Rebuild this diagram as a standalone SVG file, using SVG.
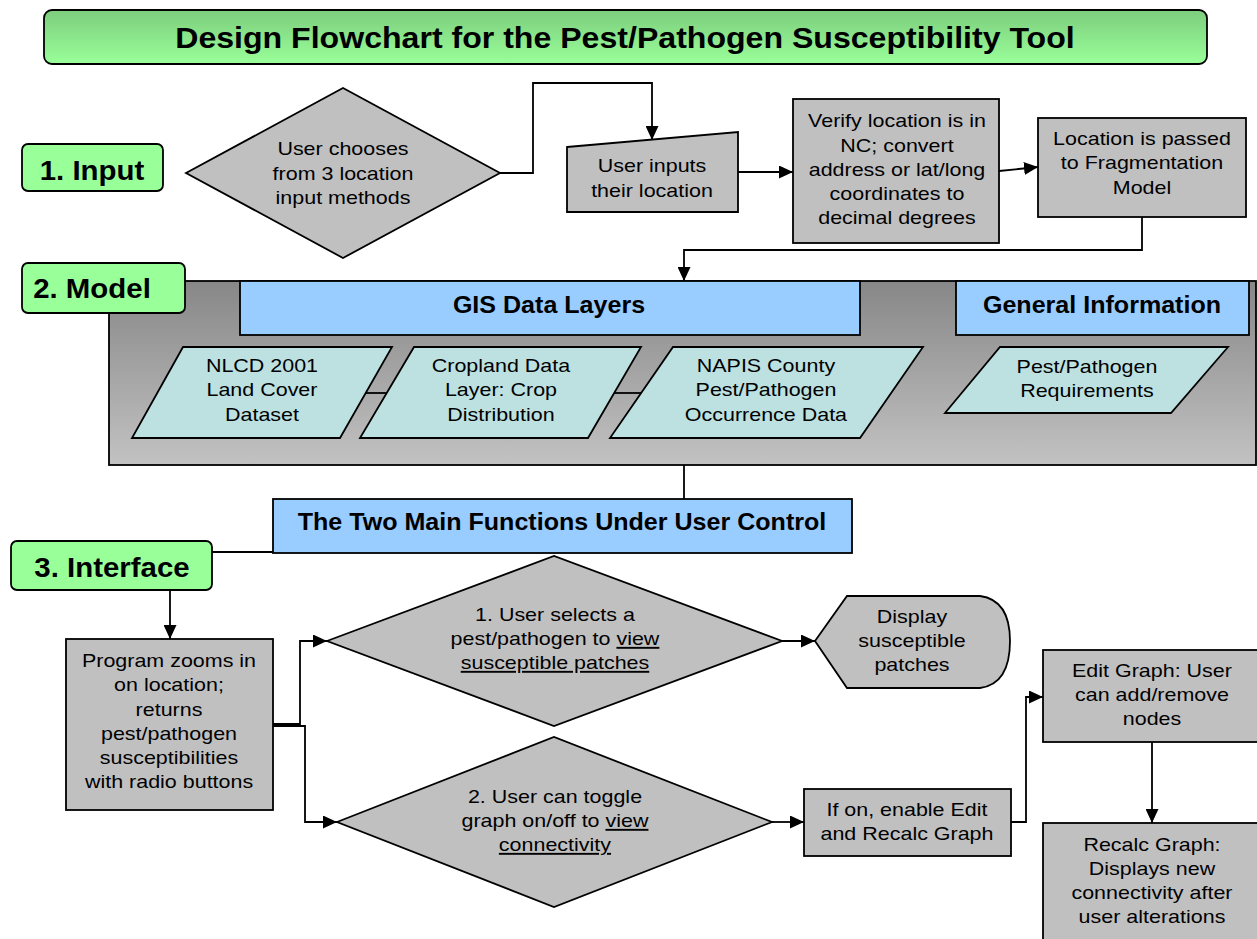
<svg xmlns="http://www.w3.org/2000/svg" width="1257" height="939" viewBox="0 0 1257 939">
  <defs>
    <linearGradient id="titleGrad" x1="0" y1="0" x2="0" y2="1">
      <stop offset="0" stop-color="#7dcd7d"/>
      <stop offset="1" stop-color="#99ff99"/>
    </linearGradient>
    <linearGradient id="modelGrad" x1="0" y1="0" x2="0" y2="1">
      <stop offset="0" stop-color="#878787"/>
      <stop offset="1" stop-color="#c2c2c2"/>
    </linearGradient>
    <marker id="arrow" viewBox="0 0 14 13" refX="14" refY="6.5" markerWidth="14" markerHeight="13" markerUnits="userSpaceOnUse" orient="auto">
      <path d="M0,0 L14,6.5 L0,13 Z" fill="#000"/>
    </marker>
  </defs>
  <style>
    .box { fill: #c0c0c0; stroke: #000; stroke-width: 1.8; }
    .label { fill: #99ff99; stroke: #000; stroke-width: 1.8; }
    .bar { fill: #99ccff; stroke: #000; stroke-width: 1.8; }
    .data { fill: #bde0e0; stroke: #000; stroke-width: 1.8; }
    text { transform-box: fill-box; transform-origin: center; text-anchor: middle; fill: #000; font-family: "Liberation Sans", Arial, sans-serif; }
    .txt { font-size: 19px; transform: scaleX(1.13); }
    .hd { font-weight: bold; font-size: 23px; transform: scaleX(1.09); }
    .lbl { font-weight: bold; font-size: 27px; transform: scaleX(1.09); }
    .ttl { font-weight: bold; font-size: 30px; transform: scaleX(1.07); }
    .wire { fill: none; stroke: #000; stroke-width: 1.8; }
    .arr { fill: none; stroke: #000; stroke-width: 1.8; marker-end: url(#arrow); }
  </style>

  <!-- title banner -->
  <g id="title">
    <rect x="44" y="10" width="1163" height="54" rx="8" fill="url(#titleGrad)" stroke="#000" stroke-width="1.8"/>
    <text class="ttl" x="625" y="48">Design Flowchart for the Pest/Pathogen Susceptibility Tool</text>
  </g>

  <!-- model container (background for section 2) -->
  <g id="model-area">
    <rect x="109" y="281" width="1147" height="184" fill="url(#modelGrad)" stroke="#000" stroke-width="1.8"/>
  </g>

  <!-- connectors -->
  <g id="connectors">
    <polyline class="arr" points="500,173 533,173 533,83 652,83 652,140"/>
    <line class="arr" x1="738" y1="172" x2="793" y2="172"/>
    <line class="arr" x1="999" y1="171" x2="1038" y2="167"/>
    <polyline class="arr" points="1142,217 1142,250 684,250 684,281"/>
    <line class="wire" x1="366" y1="393" x2="387" y2="393"/>
    <line class="wire" x1="614" y1="393" x2="642" y2="393"/>
    <line class="wire" x1="684" y1="465" x2="684" y2="499"/>
    <line class="wire" x1="212" y1="552" x2="273" y2="552"/>
    <line class="arr" x1="170" y1="590" x2="170" y2="639"/>
    <polyline class="arr" points="273,724 300,724 300,641 327,641"/>
    <polyline class="arr" points="273,726 305,726 305,822 337,822"/>
    <line class="arr" x1="782" y1="641" x2="815" y2="641"/>
    <line class="arr" x1="772" y1="822" x2="804" y2="822"/>
    <polyline class="arr" points="1011,822 1026,822 1026,697 1043,697"/>
    <line class="arr" x1="1152" y1="742" x2="1152" y2="823"/>
  </g>

  <!-- section 1: input -->
  <g id="label-input">
    <rect class="label" x="22" y="144" width="141" height="47" rx="6"/>
    <text class="lbl" x="92" y="180">1. Input</text>
  </g>
  <g id="choose-method">
    <polygon class="box" points="186,173 343,88 500,173 343,258"/>
    <text class="txt" x="343" y="155">User chooses</text>
    <text class="txt" x="343" y="180">from 3 location</text>
    <text class="txt" x="343" y="204">input methods</text>
  </g>
  <g id="user-inputs">
    <polygon class="box" points="567,147 738,132 738,212 567,212"/>
    <text class="txt" x="652" y="172">User inputs</text>
    <text class="txt" x="652" y="197">their location</text>
  </g>
  <g id="verify-location">
    <rect class="box" x="793" y="99" width="206" height="144"/>
    <text class="txt" x="897" y="127">Verify location is in</text>
    <text class="txt" x="897" y="152">NC; convert</text>
    <text class="txt" x="897" y="176">address or lat/long</text>
    <text class="txt" x="897" y="200">coordinates to</text>
    <text class="txt" x="897" y="224">decimal degrees</text>
  </g>
  <g id="pass-location">
    <rect class="box" x="1038" y="118" width="208" height="99"/>
    <text class="txt" x="1142" y="145">Location is passed</text>
    <text class="txt" x="1142" y="169">to Fragmentation</text>
    <text class="txt" x="1142" y="194">Model</text>
  </g>

  <!-- section 2: model -->
  <g id="label-model">
    <rect class="label" x="22" y="263" width="163" height="50" rx="6"/>
    <text class="lbl" x="92" y="298">2. Model</text>
  </g>
  <g id="gis-layers">
    <rect class="bar" x="240" y="281" width="620" height="54"/>
    <text class="hd" x="549" y="313">GIS Data Layers</text>
  </g>
  <g id="general-info">
    <rect class="bar" x="956" y="281" width="293" height="54"/>
    <text class="hd" x="1102" y="313">General Information</text>
  </g>
  <g id="nlcd">
    <polygon class="data" points="183,347 392,347 340,438 132,438"/>
    <text class="txt" x="262" y="372">NLCD 2001</text>
    <text class="txt" x="262" y="396">Land Cover</text>
    <text class="txt" x="262" y="421">Dataset</text>
  </g>
  <g id="cropland">
    <polygon class="data" points="414,347 641,347 588,438 360,438"/>
    <text class="txt" x="501" y="372">Cropland Data</text>
    <text class="txt" x="501" y="396">Layer: Crop</text>
    <text class="txt" x="501" y="421">Distribution</text>
  </g>
  <g id="napis">
    <polygon class="data" points="673,347 923,347 860,438 610,438"/>
    <text class="txt" x="766" y="372">NAPIS County</text>
    <text class="txt" x="766" y="396">Pest/Pathogen</text>
    <text class="txt" x="766" y="421">Occurrence Data</text>
  </g>
  <g id="requirements">
    <polygon class="data" points="1000,347 1228,347 1171,413 945,413"/>
    <text class="txt" x="1087" y="373">Pest/Pathogen</text>
    <text class="txt" x="1087" y="397">Requirements</text>
  </g>

  <!-- section 3: interface -->
  <g id="main-functions">
    <rect class="bar" x="273" y="499" width="579" height="54"/>
    <text class="hd" x="562" y="530">The Two Main Functions Under User Control</text>
  </g>
  <g id="label-interface">
    <rect class="label" x="11" y="541" width="201" height="49" rx="6"/>
    <text class="lbl" x="112" y="577">3. Interface</text>
  </g>
  <g id="zoom-location">
    <rect class="box" x="66" y="639" width="207" height="171"/>
    <text class="txt" x="169" y="667">Program zooms in</text>
    <text class="txt" x="169" y="691">on location;</text>
    <text class="txt" x="169" y="716">returns</text>
    <text class="txt" x="169" y="740">pest/pathogen</text>
    <text class="txt" x="169" y="764">susceptibilities</text>
    <text class="txt" x="169" y="788">with radio buttons</text>
  </g>
  <g id="select-pest">
    <polygon class="box" points="327,641 554,556 782,641 554,726"/>
    <text class="txt" x="555" y="621">1. User selects a</text>
    <text class="txt" x="555" y="645">pest/pathogen to <tspan text-decoration="underline">view</tspan></text>
    <text class="txt" x="555" y="669" text-decoration="underline">susceptible patches</text>
  </g>
  <g id="display-patches">
    <path class="box" d="M815,641 L847,596 L980,596 Q1010,600 1010,641 Q1010,684 980,688 L847,688 Z"/>
    <text class="txt" x="912" y="623">Display</text>
    <text class="txt" x="912" y="647">susceptible</text>
    <text class="txt" x="912" y="671">patches</text>
  </g>
  <g id="toggle-graph">
    <polygon class="box" points="337,822 554,737 772,822 554,907"/>
    <text class="txt" x="555" y="803">2. User can toggle</text>
    <text class="txt" x="555" y="827">graph on/off to <tspan text-decoration="underline">view</tspan></text>
    <text class="txt" x="555" y="851" text-decoration="underline">connectivity</text>
  </g>
  <g id="enable-edit">
    <rect class="box" x="804" y="789" width="207" height="67"/>
    <text class="txt" x="907" y="816">If on, enable Edit</text>
    <text class="txt" x="907" y="840">and Recalc Graph</text>
  </g>
  <g id="edit-graph">
    <rect class="box" x="1043" y="650" width="216" height="92"/>
    <text class="txt" x="1152" y="677">Edit Graph: User</text>
    <text class="txt" x="1152" y="701">can add/remove</text>
    <text class="txt" x="1152" y="725">nodes</text>
  </g>
  <g id="recalc-graph">
    <rect class="box" x="1043" y="823" width="216" height="120"/>
    <text class="txt" x="1152" y="851">Recalc Graph:</text>
    <text class="txt" x="1152" y="875">Displays new</text>
    <text class="txt" x="1152" y="899">connectivity after</text>
    <text class="txt" x="1152" y="923">user alterations</text>
  </g>
</svg>
